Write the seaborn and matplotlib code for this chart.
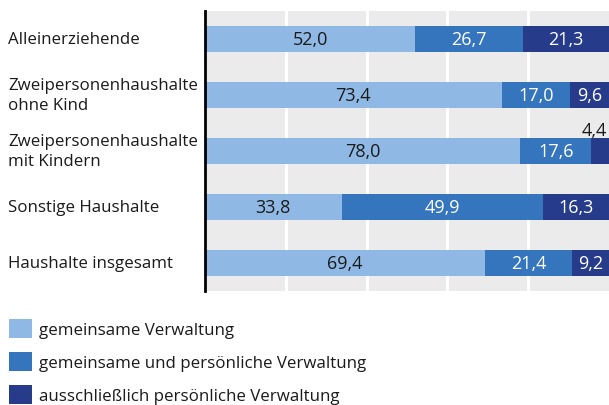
import matplotlib.pyplot as plt
import numpy as np
import pandas as pd
import seaborn as sns
from matplotlib.patches import Patch
from matplotlib.transforms import blended_transform_factory

categories = [
    "Alleinerziehende",
    "Zweipersonenhaushalte\nohne Kind",
    "Zweipersonenhaushalte\nmit Kindern",
    "Sonstige Haushalte",
    "Haushalte insgesamt",
]
gemeinsam = [52.0, 73.4, 78.0, 33.8, 69.4]
gem_pers = [26.7, 17.0, 17.6, 49.9, 21.4]
persoenlich = [21.3, 9.6, 4.4, 16.3, 9.2]
series_names = [
    "gemeinsame Verwaltung",
    "gemeinsame und persönliche Verwaltung",
    "ausschließlich persönliche Verwaltung",
]
colors = ["#8fb9e4", "#3475bd", "#263c8b"]

df = pd.DataFrame({"cat": categories, "a": gemeinsam, "b": gem_pers, "c": persoenlich})
df["ab"] = df["a"] + df["b"]
df["abc"] = df["ab"] + df["c"]

sns.set_style("white")
plt.rcParams["font.family"] = ["Open Sans", "DejaVu Sans"]

fig = plt.figure(figsize=(6.09, 4.06), dpi=100)
ax = fig.add_axes([205 / 609, 1 - 292 / 406, 404 / 609, 280 / 406])
ax.set_facecolor("#ebebeb")

# stacked bars by overdrawing cumulative totals
for col, color in zip(["abc", "ab", "a"], colors[::-1]):
    sns.barplot(data=df, x=col, y="cat", orient="h", color=color, width=0.46,
                saturation=1, linewidth=0, ax=ax, zorder=3)

ax.set_xlim(0, 100)
ax.set_ylim(4.5, -0.5)
ax.set_xticks([20, 40, 60, 80])
ax.xaxis.grid(True, color="white", linewidth=2.2, zorder=1)
ax.set_axisbelow(True)
ax.tick_params(left=False, bottom=False, labelleft=False, labelbottom=False)
ax.set_xlabel("")
ax.set_ylabel("")
for s in ["top", "right", "bottom"]:
    ax.spines[s].set_visible(False)
ax.spines["left"].set_color("black")
ax.spines["left"].set_linewidth(2)
ax.spines["left"].set_zorder(5)

fmt = lambda v: f"{v:.1f}".replace(".", ",")
for i, row in df.iterrows():
    ax.text(row["a"] / 2, i, fmt(row["a"]), ha="center", va="center",
            fontsize=13, color="#1a1a1a", zorder=6)
    ax.text(row["a"] + row["b"] / 2, i, fmt(row["b"]), ha="center", va="center",
            fontsize=13, color="white", zorder=6)
    if row["c"] < 6:
        ax.text(99.6, i - 0.37, fmt(row["c"]), ha="right", va="center",
                fontsize=13, color="#1a1a1a", zorder=6)
    else:
        ax.text(row["ab"] + row["c"] / 2, i, fmt(row["c"]), ha="center", va="center",
                fontsize=13, color="white", zorder=6)

trans = blended_transform_factory(fig.transFigure, ax.transData)
for i, c in enumerate(categories):
    ax.text(8 / 609, i, c, transform=trans, ha="left", va="center",
            fontsize=12.2, color="#1a1a1a", linespacing=1.35, clip_on=False)

handles = [Patch(facecolor=c, edgecolor="none") for c in colors]
fig.legend(handles, series_names, loc="upper left",
           bbox_to_anchor=(9 / 609, 1 - 320 / 406), frameon=False, fontsize=12.2,
           handlelength=1.35, handleheight=1.35, handletextpad=0.4,
           labelspacing=0.82, borderaxespad=0, borderpad=0, labelcolor="#1a1a1a")

fig.savefig("out.png", dpi=100)
